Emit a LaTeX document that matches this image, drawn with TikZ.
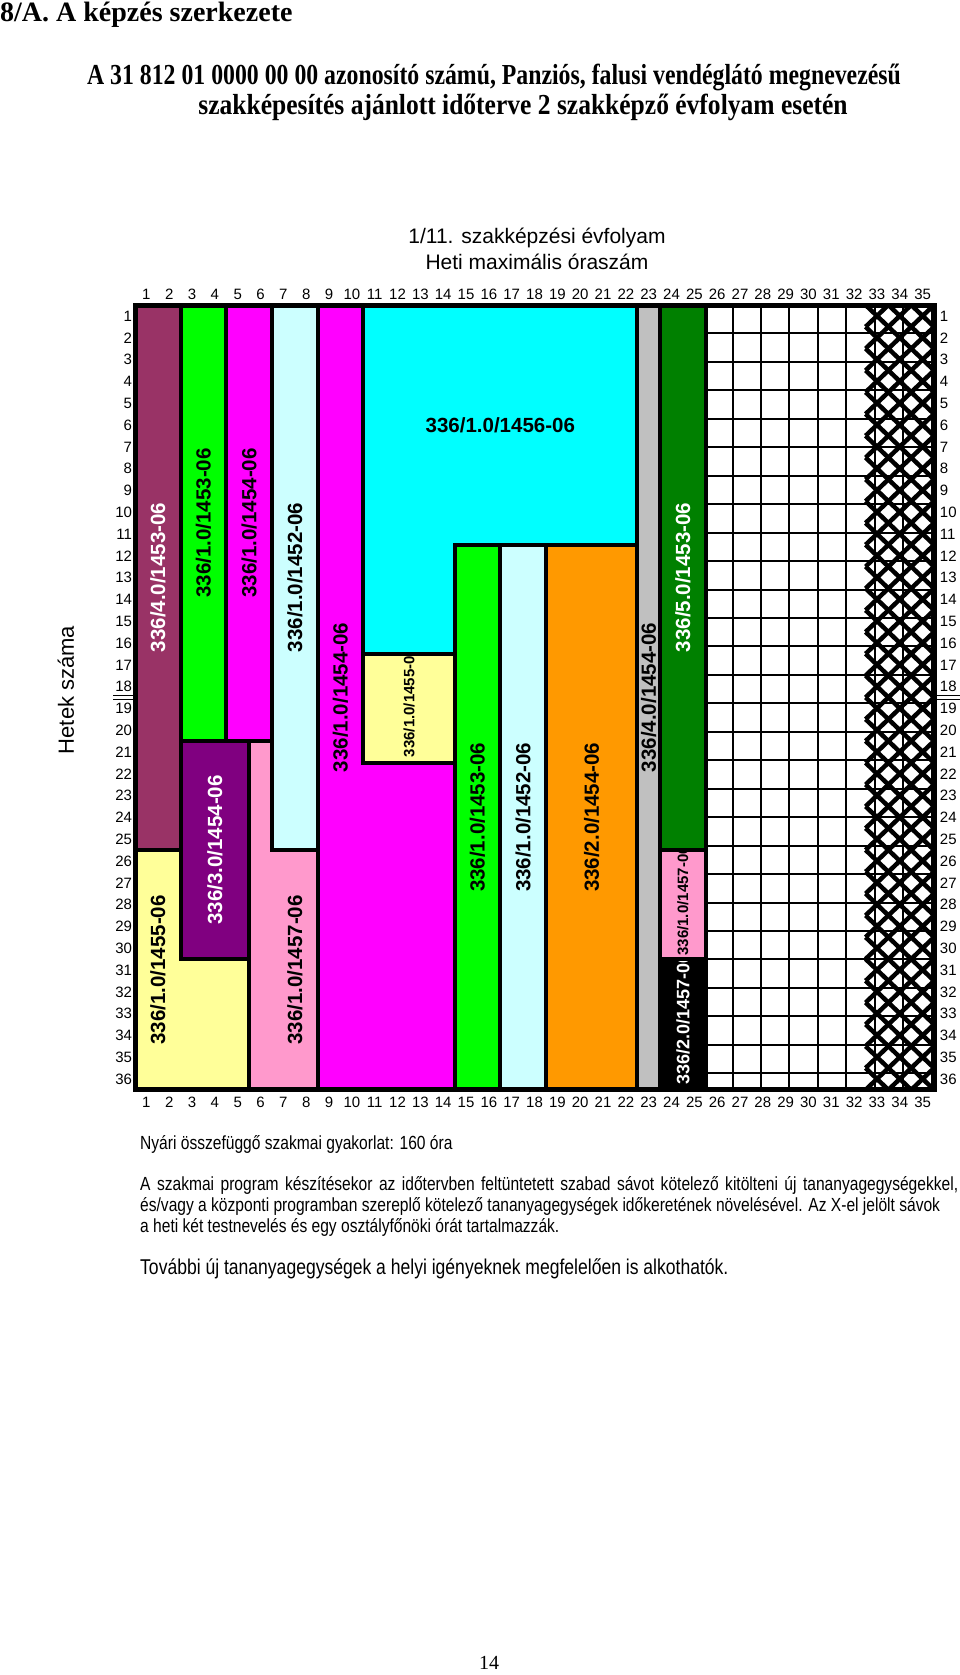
\documentclass[tikz,border=0pt]{standalone}
\usepackage{fontspec}
\setmainfont{Liberation Serif}
\setsansfont{Liberation Sans}
\newfontfamily\narrowserif[FakeStretch=0.82]{Liberation Serif}
\newfontfamily\wideserif[FakeStretch=0.88]{Liberation Serif}
\newfontfamily\narrowsans[FakeStretch=0.82]{Liberation Sans}
\usetikzlibrary{positioning}

\definecolor{kplum}{HTML}{993366}
\definecolor{kgreen}{HTML}{00FF00}
\definecolor{kmagenta}{HTML}{FF00FF}
\definecolor{klightcyan}{HTML}{CCFFFF}
\definecolor{kyellow}{HTML}{FFFF99}
\definecolor{kpurple}{HTML}{800080}
\definecolor{kpink}{HTML}{FF99CC}
\definecolor{kcyan}{HTML}{00FFFF}
\definecolor{korange}{HTML}{FF9900}
\definecolor{kgray}{HTML}{C0C0C0}
\definecolor{kdarkgreen}{HTML}{008000}

\begin{document}
\begin{tikzpicture}[x=1pt, y=-1pt,
    blk/.style={draw=black, line width=4pt, line join=miter},
    lbl/.style={rotate=90, inner sep=0pt, font=\fontsize{20.5}{22}\selectfont\sffamily\bfseries},
    smalllbl/.style={lbl, anchor=west, font=\fontsize{15}{16}\selectfont\sffamily\bfseries},
    num/.style={inner sep=0pt, anchor=base, font=\fontsize{15}{16}\selectfont\sffamily},
    foot/.style={anchor=base west, inner sep=0pt, font=\fontsize{19}{21}\selectfont\narrowsans}]
    \useasboundingbox[fill=white] (0,0) rectangle (960,1675);

    % headings
    \node[anchor=base west, inner sep=0pt, font=\fontsize{28}{30}\selectfont\bfseries] (title) at (0,22) {8/A. A képzés szerkezete};
    \node[anchor=base, inner sep=0pt, font=\fontsize{29}{32}\selectfont\narrowserif\bfseries] (sub1) at (494,85) {A 31 812 01 0000 00 00 azonosító számú, Panziós, falusi vendéglátó megnevezésű};
    \node[anchor=base, inner sep=0pt, font=\fontsize{29}{32}\selectfont\wideserif\bfseries] (sub2) at (523,114) {szakképesítés ajánlott időterve 2 szakképző évfolyam esetén};
    \node[anchor=base, inner sep=0pt, font=\fontsize{21}{24}\selectfont\sffamily] (head1) at (537,243) {1/11. szakképzési évfolyam};
    \node[anchor=base, inner sep=0pt, font=\fontsize{21}{24}\selectfont\sffamily] (head2) at (537,269) {Heti maximális óraszám};
    \node[rotate=90, inner sep=0pt, font=\fontsize{22}{24}\selectfont\sffamily] (hetek) at (66,690) {Hetek száma};

    % week separator marks
    \draw[line width=1.3pt] (113,695.5) -- (134,695.5) (113,699.5) -- (134,699.5);
    \draw[line width=1.3pt] (937,695.5) -- (960,695.5) (937,699.5) -- (960,699.5);

    \begin{scope}[shift={(135,305)}, x=22.83pt, y=-21.8pt]
        % blocks
        \filldraw[blk, fill=kplum] (0,0) rectangle (2,25);
        \filldraw[blk, fill=kyellow] (0,25) -- (2,25) -- (2,30) -- (5,30) -- (5,36) -- (0,36) -- cycle;
        \filldraw[blk, fill=kgreen] (2,0) rectangle (4,20);
        \filldraw[blk, fill=kmagenta] (4,0) rectangle (6,20);
        \filldraw[blk, fill=kpurple] (2,20) rectangle (5,30);
        \filldraw[blk, fill=klightcyan] (6,0) rectangle (8,25);
        \filldraw[blk, fill=kpink] (5,20) -- (6,20) -- (6,25) -- (8,25) -- (8,36) -- (5,36) -- cycle;
        \filldraw[blk, fill=kmagenta] (8,0) -- (10,0) -- (10,21) -- (14,21) -- (14,36) -- (8,36) -- cycle;
        \filldraw[blk, fill=kcyan] (10,0) -- (22,0) -- (22,11) -- (14,11) -- (14,16) -- (10,16) -- cycle;
        \filldraw[blk, fill=kyellow] (10,16) rectangle (14,21);
        \filldraw[blk, fill=kgreen] (14,11) rectangle (16,36);
        \filldraw[blk, fill=klightcyan] (16,11) rectangle (18,36);
        \filldraw[blk, fill=korange] (18,11) rectangle (22,36);
        \filldraw[blk, fill=kgray] (22,0) rectangle (23,36);
        \filldraw[blk, fill=kdarkgreen] (23,0) rectangle (25,25);
        \filldraw[blk, fill=kpink] (23,25) rectangle (25,30);
        \filldraw[blk, fill=black] (23,30) rectangle (25,36);

        % free and X-marked bands
        \draw[line width=2pt] (25,0) grid (35,36);
        \foreach \r in {0,...,35}
            \foreach \c in {32,33,34}
                \draw[line width=4.5pt] (\c,\r) -- (\c+1,\r+1) (\c+1,\r) -- (\c,\r+1);
        \draw[line width=5pt] (0,0) rectangle (35,36);

        % unit labels
        \node[lbl, text=white] (lplum) at (1,12.5) {336/4.0/1453-06};
        \node[lbl] (lyellow) at (1,30.5) {336/1.0/1455-06};
        \node[lbl] (lgreen) at (3,10) {336/1.0/1453-06};
        \node[lbl] (lmagenta) at (5,10) {336/1.0/1454-06};
        \node[lbl, text=white] (lpurple) at (3.5,25) {336/3.0/1454-06};
        \node[lbl] (llightcyan) at (7,12.5) {336/1.0/1452-06};
        \node[lbl] (lpink) at (7,30.5) {336/1.0/1457-06};
        \node[lbl] (lmagentab) at (9,18) {336/1.0/1454-06};
        \node[lbl, rotate=-90] (lcyan) at (16,5.5) {336/1.0/1456-06};
        \node[lbl] (lgreenb) at (15,23.5) {336/1.0/1453-06};
        \node[lbl] (llightcyanb) at (17,23.5) {336/1.0/1452-06};
        \node[lbl] (lorange) at (20,23.5) {336/2.0/1454-06};
        \node[lbl] (lgray) at (22.5,18) {336/4.0/1454-06};
        \node[lbl, text=white] (ldarkgreen) at (24,12.5) {336/5.0/1453-06};
        \begin{scope}
            \clip (10,16) rectangle (14,21);
            \node[smalllbl] (lyellowb) at (12,20.75) {336/1.0/1455-06};
        \end{scope}
        \begin{scope}
            \clip (23,25) rectangle (25,30);
            \node[smalllbl] (lpinkb) at (24,29.85) {336/1.0/1457-06};
        \end{scope}
        \begin{scope}
            \clip (23,30) rectangle (25,36);
            \node[smalllbl, text=white, font=\fontsize{18}{20}\selectfont\sffamily\bfseries] (lblack) at (24,35.75) {336/2.0/1457-06};
        \end{scope}
        \draw[blk] (10,16) rectangle (14,21);
        \draw[blk] (23,25) rectangle (25,30);
        \draw[blk] (23,30) rectangle (25,36);

        % hour and week numbers
        \foreach \c in {1,...,35} {
            \node[num] (ct\c) at (\c-0.5,-0.25) {\c};
            \node[num] (cb\c) at (\c-0.5,36.81) {\c};
        }
        \foreach \r in {1,...,36} {
            \node[num, anchor=base east] (rl\r) at (-0.12,\r-0.25) {\r};
            \node[num, anchor=base west] (rr\r) at (35.25,\r-0.25) {\r};
        }
    \end{scope}

    % notes
    \node[foot] (gyak) at (140,1149) {Nyári összefüggő szakmai gyakorlat: 160 óra};
    \node[foot] (note1) at (140,1190) {\makebox[818pt][s]{A szakmai program készítésekor az időtervben feltüntetett szabad sávot kötelező kitölteni új tananyagegységekkel,}};
    \node[foot] (note2) at (140,1211) {és/vagy a központi programban szereplő kötelező tananyagegységek időkeretének növelésével. Az X-el jelölt sávok};
    \node[foot] (note3) at (140,1232) {a heti két testnevelés és egy osztályfőnöki órát tartalmazzák.};
    \node[foot, font=\fontsize{21.4}{23}\selectfont\narrowsans] (tovabbi) at (140,1274) {További új tananyagegységek a helyi igényeknek megfelelően is alkothatók.};
    \node[anchor=base, inner sep=0pt, font=\fontsize{20}{22}\selectfont] (page) at (489,1669) {14};
\end{tikzpicture}
\end{document}
